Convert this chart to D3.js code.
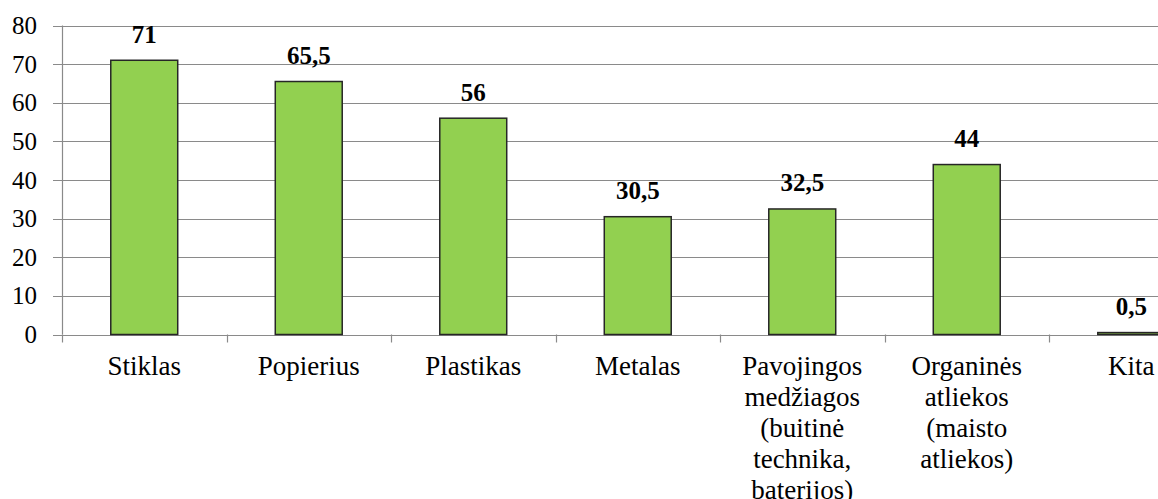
<!DOCTYPE html>
<html>
<head>
<meta charset="UTF-8">
<script src="https://cdn.jsdelivr.net/npm/d3@7"></script>
</head>
<body style="margin:0">
<svg id="chart" width="1158" height="499" style="display:block"></svg>
<script>
const categories = [
  ["Stiklas"],
  ["Popierius"],
  ["Plastikas"],
  ["Metalas"],
  ["Pavojingos", "medžiagos", "(buitinė", "technika,", "baterijos)"],
  ["Organinės", "atliekos", "(maisto", "atliekos)"],
  ["Kita"]
];
const values = [71, 65.5, 56, 30.5, 32.5, 44, 0.5];
const valueLabels = ["71", "65,5", "56", "30,5", "32,5", "44", "0,5"];
const yTicks = [0, 10, 20, 30, 40, 50, 60, 70, 80];

const svg = d3.select("#chart");
const left = 62, step = 164.5;

// plot runs past the right edge of the picture, like in the original
const x = d3.scaleBand()
  .domain(d3.range(categories.length))
  .range([left, left + step * categories.length])
  .padding(0);

const y = d3.scaleLinear().domain([0, 80]).range([334.5, 25.5]);

const grid = "#8a8a8a";

// gridlines + y ticks
svg.append("g")
  .selectAll("line")
  .data(yTicks)
  .join("line")
  .attr("x1", left - 9)
  .attr("x2", 1158)
  .attr("y1", d => Math.round(y(d)) + 0.5)
  .attr("y2", d => Math.round(y(d)) + 0.5)
  .attr("stroke", grid)
  .attr("stroke-width", 1.2);

svg.append("g")
  .selectAll("text")
  .data(yTicks)
  .join("text")
  .attr("x", 37)
  .attr("y", d => y(d) + 8.5)
  .attr("text-anchor", "end")
  .attr("font-size", "25px")
  .style("font-family", d => `'Liberation Serif'`)
  .attr("fill", "#000")
  .text(d => d);

// y axis line
svg.append("line")
  .attr("x1", left + 0.5).attr("x2", left + 0.5)
  .attr("y1", y(80)).attr("y2", y(0))
  .attr("stroke", grid).attr("stroke-width", 1.2);

// category tick marks
svg.append("g")
  .selectAll("line")
  .data(d3.range(categories.length + 1))
  .join("line")
  .attr("x1", i => Math.round(left + i * step) + 0.5)
  .attr("x2", i => Math.round(left + i * step) + 0.5)
  .attr("y1", y(0))
  .attr("y2", y(0) + 8)
  .attr("stroke", grid)
  .attr("stroke-width", 1.2);

// bars
const barFrac = 0.407;
const bw = x.bandwidth() * barFrac;
svg.append("g")
  .selectAll("rect")
  .data(values)
  .join("rect")
  .attr("x", (d, i) => x(i) + (x.bandwidth() - bw) / 2)
  .attr("y", d => y(d))
  .attr("width", bw)
  .attr("height", d => y(0) - y(d))
  .attr("fill", "#92d050")
  .attr("stroke", "#262626")
  .attr("stroke-width", 1.5);

// value labels
svg.append("g")
  .selectAll("text")
  .data(values)
  .join("text")
  .attr("x", (d, i) => x(i) + x.bandwidth() / 2)
  .attr("y", d => y(d) - 17.5)
  .attr("text-anchor", "middle")
  .attr("font-size", "25px")
  .attr("font-weight", "bold")
  .style("font-family", d => `'Liberation Serif'`)
  .attr("fill", "#000")
  .text((d, i) => valueLabels[i]);

// category labels, one text per line
const lines = categories.flatMap((c, i) => c.map((line, j) => ({ line, i, j })));
svg.append("g")
  .selectAll("text")
  .data(lines)
  .join("text")
  .attr("x", d => x(d.i) + x.bandwidth() / 2)
  .attr("y", d => 375 + d.j * 31)
  .attr("text-anchor", "middle")
  .attr("font-size", "27px")
  .style("font-family", d => `'Liberation Serif'`)
  .attr("fill", "#000")
  .text(d => d.line);
</script>
</body>
</html>
